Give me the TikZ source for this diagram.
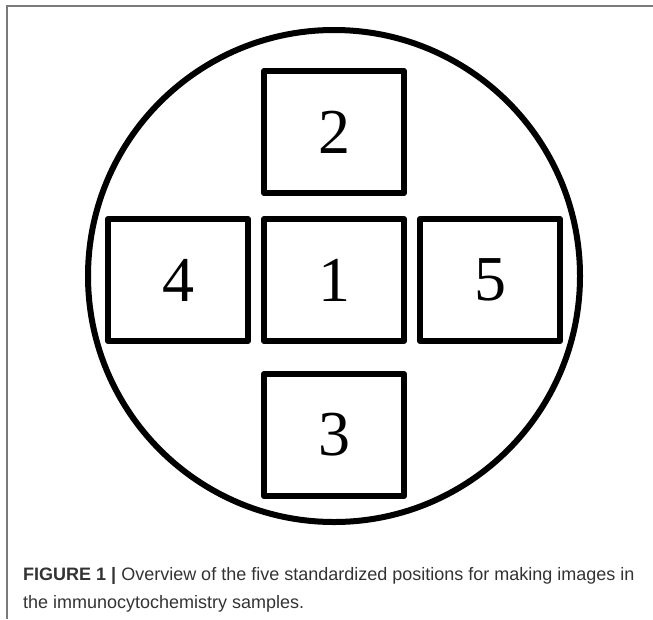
\documentclass[tikz,border=0pt]{standalone}
\usepackage{fontspec}
\setmainfont{Liberation Serif}
\setsansfont{Liberation Sans}
\usepackage{tikz}
\usetikzlibrary{positioning}
\definecolor{Frame}{HTML}{7A7A7A}
\definecolor{Caption}{HTML}{333333}
\tikzset{
  field/.style={draw=black,fill=white,line width=6pt,line join=round,minimum width=140pt,minimum height=122pt,inner sep=0pt,outer sep=0pt,font=\fontsize{64}{64}\selectfont},
  dish/.style={circle,draw=black,line width=6pt,minimum size=492pt,inner sep=0pt,outer sep=0pt},
  frame/.style={draw=Frame,line width=1.5pt},
  caption/.style={anchor=base west,inner sep=0pt,text=Caption,font=\sffamily\fontsize{18}{28}\selectfont}
}
\begin{document}
\begin{tikzpicture}[x=1pt,y=1pt]
  \useasboundingbox (0,0) rectangle (653,-619);
  \draw[frame] (7,-619) |- (653,-6);
  \node[dish] (dish) at (334,-276) {};
  \node[field] (f1) at (334,-280) {1};
  \node[field,above=26pt of f1] (f2) {2};
  \node[field,below=33pt of f1] (f3) {3};
  \node[field,left=16pt of f1] (f4) {4};
  \node[field,right=16pt of f1] (f5) {5};
  \node[caption] (cap1) at (23,-580) {\textbf{FIGURE 1 |} Overview of the five standardized positions for making images in};
  \node[caption] (cap2) at (23,-608) {the immunocytochemistry samples.};
\end{tikzpicture}
\end{document}
